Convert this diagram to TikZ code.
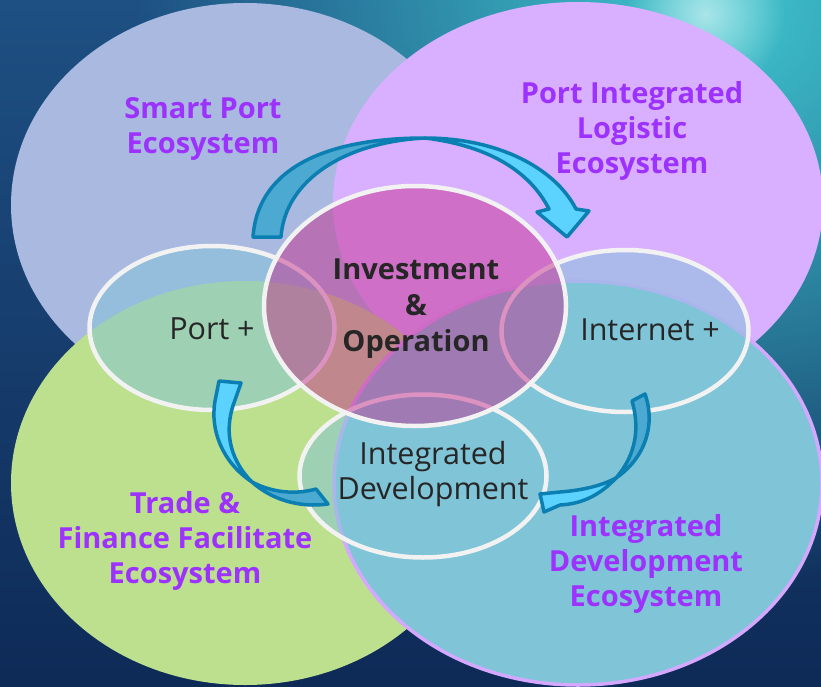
\documentclass[tikz,border=0pt]{standalone}
\usepackage{fontspec}
\setmainfont{Open Sans}
\usetikzlibrary{shapes.geometric,fadings}

\definecolor{bgtop}{HTML}{1E5083}
\definecolor{bgbot}{HTML}{0E2A57}
\definecolor{glowc}{HTML}{3FC6CE}
\definecolor{lavE}{HTML}{A9B9E0}
\definecolor{pinkE}{HTML}{D9B0FF}
\definecolor{greenE}{HTML}{BDE08F}
\definecolor{blueE}{HTML}{80C4D8}
\definecolor{blueEdge}{HTML}{D5A8FF}
\definecolor{hubfill}{HTML}{C52789}
\definecolor{ringline}{HTML}{F2F2F2}
\definecolor{labpurple}{HTML}{9D32FF}
\definecolor{darktext}{HTML}{262626}
\definecolor{arrowline}{HTML}{0B7FB1}
\definecolor{arrowtail}{HTML}{4BA9D2}
\definecolor{arrowhead}{HTML}{5CD2FF}

\tikzfading[name=glowfade, inner color=transparent!0, outer color=transparent!100]

\tikzset{
  bigell/.style={ellipse, inner sep=0pt, outer sep=0pt},
  ring/.style={ellipse, inner sep=0pt, draw=ringline, line width=4.5pt},
  ecolabel/.style={align=center, text=labpurple,
    font=\fontsize{29}{35}\selectfont\bfseries},
  hubtext/.style={align=center, text=darktext,
    font=\fontsize{29}{36}\selectfont\bfseries},
  ringtext/.style={align=center, text=darktext,
    font=\fontsize{30.5}{35}\selectfont},
  arrowpart/.style={draw=arrowline, line width=3.5pt, line join=round},
}

\begin{document}
\begin{tikzpicture}[x=1pt,y=-1pt]
\useasboundingbox (0,0) rectangle (821,687);

% background with a teal glow in the upper right corner
\begin{scope}
  \clip (0,0) rectangle (821,687);
  \shade[top color=bgtop, bottom color=bgbot] (0,0) rectangle (821,687);
  \fill[glowc, path fading=glowfade] (715,5) circle [radius=580pt];
  \fill[white!55!glowc, path fading=glowfade] (705,14) circle [radius=80pt];
\end{scope}

% the four ecosystems
\node[bigell, fill=lavE, minimum width=468pt, minimum height=404pt] (smart) at (245,205) {};
\node[bigell, fill=pinkE, minimum width=490pt, minimum height=402pt] (logistic) at (578,203) {};
\node[bigell, fill=greenE, minimum width=468pt, minimum height=404pt] (trade) at (245,483) {};
\node[bigell, fill=blueE, draw=blueEdge, line width=3.5pt, minimum width=488pt, minimum height=404pt] (develop) at (578,483) {};

% the outer rings
\node[ring, fill=blueE, fill opacity=0.5, minimum width=245pt, minimum height=164pt] (port) at (212,328) {};
\node[ring, fill=blueE, fill opacity=0.5, minimum width=247pt, minimum height=162pt] (internet) at (625,331) {};
\node[ring, fill=blueE, fill opacity=0.5, minimum width=247pt, minimum height=163pt] (integ) at (423,476) {};

% the hub
\node[ring, fill=hubfill, fill opacity=0.47, minimum width=302pt, minimum height=240pt] (hub) at (415,306) {};

% curved arrow over the top: Port + to Internet +
\filldraw[arrowpart, fill=arrowtail]
  (253,237) .. controls (258,166) and (330,138) .. (425,138)
  .. controls (345,142) and (285,180) .. (281,237) -- cycle;
\filldraw[arrowpart, fill=arrowhead]
  (425,138) .. controls (498,138) and (555,168) .. (576,209)
  -- (589,211) -- (567,237) -- (537,212) -- (549,209)
  .. controls (530,172) and (490,146) .. (425,138) -- cycle;

% curved arrow on the right: Internet + to Integrated Development
\filldraw[arrowpart, fill=arrowtail]
  (645,394) .. controls (656,425) and (645,458) .. (616,478)
  .. controls (636,455) and (640,428) .. (632,401) -- cycle;
\filldraw[arrowpart, fill=arrowhead]
  (616,478) .. controls (600,495) and (582,504) .. (560,505)
  -- (544,512) -- (540,494) -- (560,492)
  .. controls (585,490) and (603,485) .. (616,478) -- cycle;

% curved arrow on the left: Integrated Development to Port +
\filldraw[arrowpart, fill=arrowtail]
  (328,504) .. controls (300,508) and (272,500) .. (252,482)
  .. controls (275,494) and (298,494) .. (316,489) -- cycle;
\filldraw[arrowpart, fill=arrowhead]
  (252,482) .. controls (222,462) and (210,430) .. (215,401)
  -- (219,381) -- (241,383) -- (235,400)
  .. controls (224,428) and (228,458) .. (252,482) -- cycle;

% labels
\node[ecolabel] (smartlab) at (203,129) {Smart Port\\Ecosystem};
\node[ecolabel] (logisticlab) at (632,131) {Port Integrated\\Logistic\\Ecosystem};
\node[ecolabel] (tradelab) at (185,541) {Trade \&\\Finance Facilitate\\Ecosystem};
\node[ecolabel] (developlab) at (646,564) {Integrated\\Development\\Ecosystem};

\node[hubtext] (hublab) at (416,309) {Investment\\\&\\Operation};
\node[ringtext] (portlab) at (212,329) {Port +};
\node[ringtext] (internetlab) at (650,330) {Internet +};
\node[ringtext] (integlab) at (433,474) {Integrated\\Development};
\end{tikzpicture}
\end{document}
